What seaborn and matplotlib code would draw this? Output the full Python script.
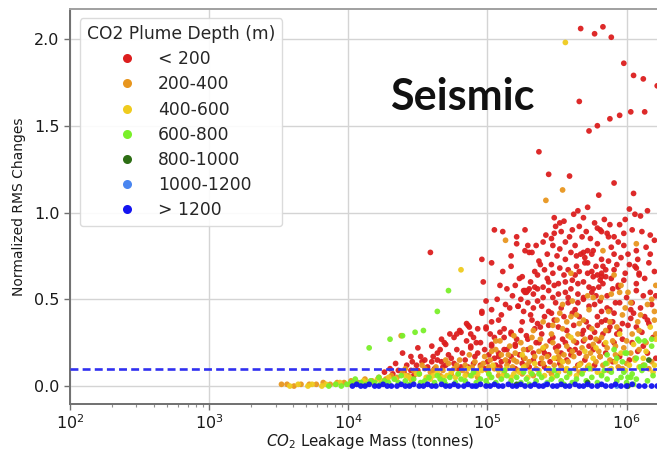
import numpy as np
import pandas as pd
import matplotlib
matplotlib.use("Agg")
import matplotlib.pyplot as plt
from matplotlib.lines import Line2D
import seaborn as sns

# Depth classes of the CO2 plume and their colours
depth_labels = ["< 200", "200-400", "400-600", "600-800", "800-1000", "1000-1200", "> 1200"]
depth_colors = ["#dc1e1e", "#e8961e", "#efcb1e", "#7af02a", "#2d6e14", "#4a86f0", "#1414f0"]

# (log10 leakage mass [tonnes], normalized RMS change) per depth class
pts_lt200 = [
    (5.67, 2.06), (5.77, 2.03), (5.83, 2.07), (5.89, 2.01), (5.98, 1.86), (6.05, 1.79), (6.12, 1.77),
    (6.22, 1.73), (5.66, 1.64), (6.03, 1.58), (6.13, 1.58), (5.95, 1.56), (5.88, 1.54), (5.79, 1.50),
    (5.73, 1.47), (5.37, 1.35), (5.44, 1.22), (5.59, 1.21), (5.91, 1.17), (5.80, 1.10), (6.05, 1.11),
    (5.72, 1.03), (5.65, 1.01), (6.02, 1.02), (6.06, 0.99), (6.10, 0.98), (6.15, 1.01), (5.48, 0.97),
    (5.55, 0.95), (5.62, 0.99), (5.69, 0.97), (5.77, 0.94), (5.88, 0.93), (5.95, 0.93), (5.05, 0.90),
    (5.11, 0.89), (5.27, 0.90), (5.21, 0.86), (5.42, 0.87), (5.61, 0.90), (5.71, 0.89), (5.81, 0.90),
    (5.86, 0.88), (5.87, 0.86), (5.98, 0.88), (6.04, 0.90), (5.52, 0.94), (5.49, 0.92), (5.79, 0.91),
    (5.82, 0.89), (5.91, 0.86), (5.46, 0.85), (5.74, 0.85), (5.48, 0.88), (5.53, 0.89), (5.68, 0.86),
    (6.11, 0.89), (6.17, 0.87),
    (4.59, 0.77), (4.96, 0.73), (4.97, 0.60), (5.03, 0.71), (5.21, 0.82), (5.29, 0.81), (5.27, 0.78),
    (5.30, 0.77), (5.17, 0.75), (5.17, 0.69), (5.11, 0.66), (5.23, 0.62), (5.14, 0.56), (5.27, 0.55),
    (5.29, 0.55), (4.99, 0.49), (5.32, 0.77), (5.35, 0.81), (5.47, 0.81), (5.56, 0.83), (5.63, 0.81),
    (5.67, 0.76), (5.70, 0.74), (5.76, 0.78), (5.75, 0.76), (5.82, 0.73), (5.83, 0.69), (5.82, 0.65),
    (5.91, 0.76), (5.98, 0.81), (6.01, 0.76), (6.07, 0.78), (6.17, 0.76),
    (5.37, 0.72), (5.38, 0.70), (5.47, 0.65), (5.50, 0.75), (5.56, 0.73), (5.64, 0.75), (5.69, 0.77),
    (5.70, 0.71), (5.58, 0.67), (5.63, 0.64), (5.75, 0.66), (5.79, 0.64), (5.82, 0.63), (5.87, 0.72),
    (5.91, 0.67), (6.06, 0.69), (6.09, 0.65), (6.16, 0.71), (6.17, 0.54), (6.07, 0.59),
    (5.98, 0.61), (5.94, 0.57), (5.73, 0.57), (5.76, 0.56), (5.83, 0.59), (5.65, 0.59), (5.69, 0.60),
    (5.51, 0.59), (5.56, 0.60), (5.40, 0.57), (5.44, 0.60), (5.27, 0.54), (5.30, 0.56), (5.34, 0.57),
    (5.34, 0.66), (5.41, 0.67), (5.64, 0.69), (5.72, 0.71), (5.72, 0.65), (5.76, 0.63), (5.81, 0.61),
    (5.85, 0.63), (5.89, 0.62), (5.94, 0.58), (5.99, 0.65), (6.07, 0.68), (6.09, 0.64),
    (5.26, 0.55), (5.28, 0.54), (5.33, 0.53), (5.36, 0.56), (5.40, 0.51), (5.44, 0.55), (5.48, 0.58),
    (5.51, 0.53), (5.56, 0.54), (5.60, 0.56), (5.65, 0.53), (5.69, 0.51), (5.75, 0.54), (5.80, 0.57),
    (4.96, 0.43), (5.03, 0.44), (5.16, 0.45), (5.22, 0.46), (5.29, 0.48), (5.33, 0.45), (5.39, 0.46),
    (5.44, 0.43), (5.49, 0.48), (5.53, 0.45), (5.58, 0.48), (5.63, 0.44), (5.69, 0.50), (5.73, 0.46),
    (5.77, 0.47), (5.82, 0.43), (5.88, 0.44), (5.92, 0.48), (6.04, 0.48), (6.03, 0.44), (6.13, 0.40),
    (6.15, 0.38), (6.16, 0.36), (6.11, 0.31), (6.12, 0.23), (6.05, 0.42), (6.03, 0.39), (5.95, 0.48),
    (5.91, 0.42), (5.86, 0.45), (5.81, 0.49), (6.19, 0.28),
    (4.67, 0.27), (4.69, 0.25), (4.80, 0.32), (4.86, 0.35), (4.88, 0.30), (4.93, 0.33), (4.99, 0.34),
    (5.05, 0.28), (5.09, 0.31), (5.12, 0.28), (5.17, 0.30), (5.21, 0.27), (5.24, 0.32), (5.28, 0.29),
    (5.34, 0.33), (5.39, 0.30), (5.44, 0.35), (5.47, 0.28), (5.51, 0.34), (5.57, 0.32), (5.62, 0.35),
    (5.68, 0.30), (5.73, 0.34), (5.77, 0.31), (5.82, 0.37), (5.87, 0.32), (5.95, 0.32), (6.01, 0.35),
    (4.78, 0.30), (4.81, 0.31), (4.85, 0.36), (4.87, 0.34), (4.90, 0.28), (4.92, 0.25), (4.88, 0.22),
    (4.96, 0.42), (4.99, 0.33), (5.02, 0.30), (5.03, 0.37), (5.08, 0.38), (5.10, 0.41), (5.12, 0.33),
    (5.17, 0.31), (5.22, 0.46), (5.26, 0.43), (5.32, 0.38), (5.36, 0.36), (5.41, 0.40), (5.46, 0.42),
    (5.29, 0.27), (5.35, 0.25), (5.40, 0.21), (5.45, 0.26), (5.03, 0.23), (5.08, 0.19), (5.14, 0.21),
    (5.20, 0.24), (4.76, 0.28), (5.88, 0.34), (5.93, 0.30), (5.83, 0.30), (5.79, 0.35), (5.74, 0.28),
    (5.69, 0.32), (5.64, 0.25), (5.59, 0.21), (5.54, 0.27), (5.51, 0.23), (5.76, 0.21), (5.81, 0.17),
    (4.39, 0.19), (4.45, 0.17), (4.50, 0.22), (4.55, 0.15), (4.61, 0.17), (4.66, 0.21), (4.72, 0.18),
    (4.78, 0.21), (4.84, 0.15), (4.88, 0.23), (4.93, 0.19), (4.98, 0.21), (5.03, 0.24), (5.08, 0.17),
    (5.12, 0.21), (5.20, 0.23), (5.23, 0.18), (5.29, 0.21), (5.37, 0.25), (5.41, 0.19), (5.49, 0.22),
    (5.56, 0.25), (5.63, 0.21), (5.73, 0.23), (5.80, 0.26),
    (4.53, 0.14), (4.49, 0.12), (4.60, 0.14), (4.64, 0.15), (4.67, 0.14), (4.73, 0.30), (4.36, 0.09),
    (4.40, 0.08), (4.45, 0.09), (4.50, 0.09), (4.30, 0.10), (4.42, 0.12), (4.57, 0.11), (4.70, 0.12),
    (4.76, 0.13), (4.81, 0.11), (4.90, 0.13), (4.95, 0.12), (5.00, 0.14), (5.06, 0.12), (5.15, 0.14),
    (5.25, 0.13), (5.33, 0.15), (5.45, 0.14), (5.50, 0.16), (5.60, 0.18), (5.70, 0.15), (5.85, 0.19),
    (5.95, 0.17), (6.08, 0.20),
    (5.25, 0.63), (5.31, 0.60), (5.36, 0.64), (5.43, 0.62), (5.46, 0.70), (5.52, 0.68), (5.55, 0.64),
    (5.61, 0.61), (5.66, 0.66), (5.78, 0.69), (5.85, 0.67), (5.93, 0.70), (5.96, 0.74), (6.02, 0.70),
    (6.13, 0.62), (6.20, 0.66), (6.14, 0.80), (6.20, 0.84), (6.08, 0.73), (5.94, 0.83), (5.89, 0.80),
    (5.79, 0.82), (5.72, 0.78), (5.60, 0.77), (5.52, 0.79), (5.43, 0.76), (5.40, 0.83), (5.59, 0.86),
    (5.66, 0.92), (5.84, 0.96), (5.99, 0.96),
    (5.25, 0.37), (5.31, 0.41), (5.38, 0.34), (5.48, 0.38), (5.55, 0.40), (5.61, 0.42), (5.66, 0.40),
    (5.71, 0.37), (5.79, 0.40), (5.85, 0.38), (5.90, 0.37), (5.97, 0.36), (6.07, 0.34), (6.10, 0.45),
    (6.18, 0.47), (6.21, 0.52), (6.12, 0.52), (6.07, 0.55), (6.00, 0.51), (5.90, 0.56), (5.86, 0.52),
    (5.78, 0.52), (5.65, 0.48), (5.58, 0.51), (5.47, 0.51), (5.36, 0.49), (5.24, 0.50), (5.18, 0.52),
    (5.13, 0.47), (5.07, 0.50), (5.09, 0.58), (5.20, 0.58),
    (4.60, 0.23), (4.64, 0.19), (4.70, 0.24), (4.74, 0.16), (4.82, 0.19), (4.85, 0.26), (4.91, 0.17),
    (4.95, 0.25), (5.01, 0.18), (5.05, 0.16), (5.10, 0.14), (5.17, 0.17), (5.26, 0.16), (5.33, 0.19),
    (5.38, 0.13), (5.44, 0.18), (5.53, 0.19), (5.57, 0.15), (5.66, 0.19), (5.69, 0.26), (5.84, 0.24),
    (5.91, 0.25), (5.97, 0.27), (6.04, 0.25), (6.15, 0.19), (6.21, 0.16),
    (4.34, 0.13), (4.46, 0.14), (4.52, 0.17), (4.62, 0.10), (4.68, 0.11), (4.79, 0.10), (4.86, 0.11),
    (4.98, 0.10), (5.09, 0.11), (5.20, 0.10), (5.30, 0.11), (5.41, 0.11), (5.52, 0.13), (5.65, 0.12),
    (5.77, 0.12), (5.90, 0.14), (6.02, 0.15), (4.26, 0.08), (4.32, 0.07), (4.47, 0.06),
]
pts_200_400 = [
    (5.54, 1.13), (5.42, 1.07), (5.13, 0.84), (4.38, 0.29), (5.83, 0.78), (6.07, 0.82), (5.60, 0.65),
    (5.91, 0.64), (5.95, 0.54), (5.89, 0.53), (6.01, 0.54), (5.72, 0.52), (5.76, 0.51), (5.82, 0.51),
    (6.03, 0.48), (5.61, 0.49), (5.54, 0.47), (6.21, 0.58), (6.18, 0.50), (5.96, 0.58),
    (5.52, 0.42), (5.57, 0.37), (5.60, 0.40), (5.54, 0.33), (5.50, 0.38), (5.66, 0.36), (5.69, 0.38),
    (5.75, 0.33), (5.78, 0.27), (5.85, 0.32), (5.90, 0.26), (5.97, 0.41), (6.04, 0.30), (6.09, 0.32),
    (6.14, 0.25), (6.20, 0.43), (5.98, 0.22), (5.92, 0.18), (5.86, 0.22), (5.80, 0.20), (5.74, 0.19),
    (5.68, 0.22), (5.62, 0.26), (5.58, 0.29), (5.55, 0.18), (5.50, 0.20), (5.46, 0.30), (5.42, 0.23),
    (5.38, 0.27), (5.34, 0.17), (5.31, 0.22), (5.27, 0.16), (5.24, 0.25), (5.20, 0.19), (5.16, 0.23),
    (5.13, 0.15), (5.10, 0.18), (5.06, 0.21), (5.02, 0.15), (4.98, 0.17), (4.95, 0.11), (4.91, 0.14),
    (4.87, 0.18), (4.84, 0.12), (4.80, 0.15), (4.76, 0.10), (4.72, 0.13), (4.68, 0.09), (4.63, 0.11),
    (4.59, 0.08), (4.55, 0.10), (4.51, 0.07), (4.47, 0.09), (4.43, 0.06), (4.39, 0.08), (4.35, 0.05),
    (4.31, 0.06), (4.27, 0.04), (4.22, 0.05), (4.17, 0.03), (4.12, 0.04), (4.07, 0.02), (4.02, 0.03),
    (3.97, 0.02), (3.92, 0.02), (3.87, 0.01), (3.82, 0.02), (3.77, 0.01), (3.72, 0.01), (3.66, 0.01),
    (3.61, 0.00), (3.56, 0.01), (3.52, 0.01),
    (4.85, 0.07), (4.92, 0.08), (5.00, 0.09), (5.05, 0.10), (5.12, 0.08), (5.18, 0.11), (5.22, 0.09),
    (5.28, 0.12), (5.35, 0.10), (5.40, 0.13), (5.44, 0.09), (5.48, 0.12), (5.53, 0.11), (5.58, 0.14),
    (5.63, 0.10), (5.67, 0.13), (5.72, 0.11), (5.78, 0.14), (5.83, 0.12), (5.88, 0.15), (5.94, 0.11),
    (6.00, 0.13), (6.06, 0.16), (6.12, 0.12), (6.18, 0.14),
    (5.03, 0.20), (5.09, 0.26), (5.15, 0.18), (5.21, 0.14), (5.26, 0.21), (5.32, 0.28), (5.37, 0.20),
    (5.43, 0.17), (5.47, 0.25), (5.52, 0.15), (5.57, 0.23), (5.62, 0.17), (5.65, 0.30), (5.70, 0.27),
    (5.76, 0.24), (5.82, 0.28), (5.88, 0.37), (5.93, 0.34), (6.00, 0.26), (6.08, 0.37), (6.15, 0.47),
    (6.20, 0.38),
    (4.41, 0.10), (4.45, 0.04), (4.53, 0.12), (4.57, 0.05), (4.61, 0.09), (4.66, 0.06), (4.70, 0.15),
    (4.74, 0.07), (4.78, 0.12), (4.82, 0.09), (4.89, 0.11), (4.93, 0.05), (4.97, 0.13), (5.01, 0.11),
    (5.08, 0.06), (5.14, 0.12), (5.19, 0.15), (5.25, 0.07), (5.30, 0.14), (5.33, 0.06), (5.39, 0.16),
    (5.46, 0.07), (5.51, 0.17), (5.56, 0.09), (5.61, 0.20), (5.66, 0.08), (5.71, 0.17), (5.75, 0.10),
    (5.81, 0.17), (5.87, 0.09), (5.92, 0.23), (5.97, 0.10), (6.03, 0.19), (6.09, 0.21), (6.16, 0.10),
    (6.21, 0.30), (6.10, 0.41), (5.99, 0.45), (5.87, 0.43), (5.73, 0.44), (5.64, 0.41), (5.47, 0.35),
    (5.40, 0.37), (5.33, 0.32), (5.19, 0.29), (5.06, 0.26),
]
pts_400_600 = [
    (5.56, 1.98), (4.81, 0.67), (6.17, 0.34), (6.19, 0.08), (6.21, 0.27),
    (3.58, 0.00), (3.64, 0.01), (3.71, 0.00), (3.74, 0.01), (3.81, 0.00), (3.84, 0.01), (3.91, 0.01),
    (3.94, 0.02), (4.01, 0.01), (4.04, 0.02), (4.11, 0.03), (4.14, 0.02), (4.21, 0.04), (4.24, 0.03),
    (4.29, 0.05), (4.34, 0.04), (4.41, 0.06), (4.44, 0.05), (4.49, 0.07), (4.56, 0.05), (4.61, 0.06),
    (4.64, 0.08), (4.71, 0.06), (4.74, 0.08), (4.79, 0.07), (4.86, 0.10), (4.89, 0.06), (4.96, 0.09),
    (5.01, 0.07), (5.04, 0.12), (5.11, 0.06), (5.14, 0.10), (5.19, 0.07), (5.26, 0.11), (5.31, 0.08),
    (5.34, 0.13), (5.41, 0.06), (5.44, 0.10), (5.51, 0.08), (5.54, 0.14), (5.59, 0.07), (5.66, 0.12),
    (5.69, 0.09), (5.76, 0.16), (5.79, 0.08), (5.86, 0.13), (5.89, 0.10), (5.96, 0.19), (5.99, 0.09),
    (6.06, 0.15), (6.09, 0.11), (6.14, 0.20), (5.40, 0.22), (5.60, 0.28), (5.85, 0.25), (6.05, 0.24),
    (5.25, 0.18), (5.70, 0.20),
    (4.46, 0.03), (4.59, 0.04), (4.68, 0.05), (4.77, 0.05), (4.84, 0.06), (4.93, 0.07), (5.02, 0.05),
    (5.08, 0.09), (5.17, 0.05), (5.23, 0.08), (5.29, 0.05), (5.37, 0.09), (5.47, 0.05), (5.57, 0.10),
    (5.64, 0.06), (5.73, 0.12), (5.82, 0.07), (5.92, 0.14), (6.02, 0.12), (6.12, 0.16), (6.20, 0.12),
    (5.48, 0.16), (5.78, 0.22), (5.95, 0.30), (4.25, 0.01), (4.18, 0.02),
]
pts_600_800 = [
    (4.15, 0.22), (4.30, 0.27), (4.39, 0.29), (4.48, 0.31), (4.54, 0.32), (4.64, 0.43), (4.72, 0.55),
    (6.09, 0.26), (6.13, 0.26), (6.00, 0.19), (5.97, 0.14), (5.86, 0.18), (6.01, 0.05), (6.07, 0.16),
    (6.18, 0.23), (6.08, 0.27), (6.18, 0.27), (6.10, 0.11), (6.03, 0.05), (5.91, 0.21), (5.99, 0.19),
    (5.93, 0.16), (5.85, 0.13),
    (3.86, 0.00), (3.91, 0.01), (3.95, 0.00), (3.99, 0.01), (4.02, 0.02), (4.06, 0.01), (4.09, 0.02),
    (4.13, 0.01), (4.16, 0.03), (4.19, 0.02), (4.23, 0.01), (4.26, 0.03), (4.29, 0.02), (4.33, 0.04),
    (4.36, 0.02), (4.41, 0.03), (4.44, 0.01), (4.47, 0.04), (4.52, 0.02), (4.55, 0.03), (4.58, 0.05),
    (4.62, 0.02), (4.66, 0.04), (4.69, 0.03), (4.73, 0.05), (4.77, 0.02), (4.81, 0.04), (4.84, 0.03),
    (4.88, 0.06), (4.92, 0.02), (4.95, 0.04), (4.99, 0.03), (5.03, 0.05), (5.06, 0.02), (5.10, 0.04),
    (5.14, 0.06), (5.17, 0.03), (5.21, 0.05), (5.24, 0.02), (5.28, 0.04), (5.32, 0.07), (5.35, 0.03),
    (5.39, 0.05), (5.43, 0.02), (5.46, 0.04), (5.50, 0.06), (5.53, 0.03), (5.57, 0.05), (5.61, 0.02),
    (5.64, 0.04), (5.68, 0.07), (5.71, 0.03), (5.75, 0.05), (5.79, 0.02), (5.82, 0.06), (5.86, 0.04),
    (5.89, 0.08), (5.93, 0.03), (5.96, 0.05), (6.00, 0.02), (6.04, 0.07), (6.07, 0.04), (6.11, 0.09),
    (6.15, 0.03), (6.19, 0.06),
    (4.05, 0.04), (4.22, 0.05), (4.38, 0.06), (4.51, 0.07), (4.64, 0.06), (4.79, 0.07), (4.90, 0.08),
    (5.01, 0.07), (5.12, 0.09), (5.26, 0.08), (5.37, 0.07), (5.48, 0.09), (5.59, 0.08), (5.73, 0.10),
    (5.84, 0.09), (5.98, 0.08), (6.13, 0.12), (5.55, 0.01), (5.30, 0.01), (5.00, 0.01), (4.70, 0.01),
    (5.80, 0.01), (6.05, 0.01),
]
pts_800_1000 = [(6.16, 0.15), (5.21, 0.01), (5.72, 0.02), (6.01, 0.00)]
pts_1000_1200 = [(4.91, 0.00), (5.42, 0.01), (5.93, 0.00)]
pts_gt1200 = [
    (4.03, 0.00), (4.06, 0.01), (4.09, 0.00), (4.12, 0.00), (4.15, 0.01), (4.19, 0.00), (4.22, 0.00),
    (4.25, 0.01), (4.28, 0.00), (4.31, 0.00), (4.35, 0.00), (4.38, 0.01), (4.41, 0.00), (4.44, 0.00),
    (4.47, 0.01), (4.51, 0.00), (4.54, 0.00), (4.57, 0.01), (4.60, 0.00), (4.63, 0.00), (4.67, 0.01),
    (4.70, 0.00), (4.73, 0.00), (4.76, 0.01), (4.79, 0.00), (4.83, 0.00), (4.86, 0.01), (4.89, 0.00),
    (4.92, 0.00), (4.95, 0.01), (4.99, 0.00), (5.02, 0.00), (5.05, 0.01), (5.08, 0.00), (5.11, 0.00),
    (5.15, 0.01), (5.18, 0.00), (5.21, 0.00), (5.24, 0.01), (5.27, 0.00), (5.31, 0.00), (5.34, 0.01),
    (5.37, 0.00), (5.40, 0.00), (5.43, 0.01), (5.47, 0.00), (5.50, 0.00), (5.53, 0.01), (5.56, 0.00),
    (5.59, 0.00), (5.63, 0.01), (5.66, 0.00), (5.69, 0.00), (5.72, 0.01), (5.75, 0.00), (5.79, 0.00),
    (5.82, 0.01), (5.85, 0.00), (5.89, 0.00), (5.92, 0.01), (5.96, 0.00), (6.00, 0.00), (6.04, 0.01),
    (6.09, 0.00), (6.13, 0.00), (6.18, 0.00), (6.22, 0.00),
]
groups = [pts_lt200, pts_200_400, pts_400_600, pts_600_800, pts_800_1000, pts_1000_1200, pts_gt1200]

detection_threshold = 0.1

rows = []
for label, pts in zip(depth_labels, groups):
    for logm, rms in pts:
        rows.append({"mass": 10 ** logm, "rms": rms, "depth": label})
df = pd.DataFrame(rows)

sns.set_theme(style="whitegrid")
plt.rcParams["font.family"] = ["DejaVu Sans"]

fig = plt.figure(figsize=(6.57, 4.51), dpi=100)
ax = fig.add_axes([0.1065, 0.104, 0.915, 0.875])

sns.scatterplot(data=df, x="mass", y="rms", hue="depth", hue_order=depth_labels,
                palette=depth_colors, s=17, linewidth=0, alpha=0.95, legend=False, ax=ax)
ax.axhline(detection_threshold, color="#3030f0", lw=1.9, dashes=(3.0, 1.6), zorder=3)

ax.set_xscale("log")
ax.set_xlim(100, 10 ** 6.32)
ax.set_ylim(-0.104, 2.17)
ax.set_yticks([0.0, 0.5, 1.0, 1.5, 2.0])
ax.grid(True, which="major", color="#d4d4d4", lw=1.0)
ax.grid(False, which="minor")
ax.set_facecolor("white")

for side in ["left", "bottom", "top"]:
    ax.spines[side].set_visible(True)
    ax.spines[side].set_color("#707070")
    ax.spines[side].set_linewidth(1.4)
ax.spines["top"].set_color("#a0a0a0")
ax.spines["right"].set_visible(False)

ax.tick_params(axis="both", which="major", labelsize=11.5, labelcolor="#1a1a1a",
               length=4, width=1, color="#707070", direction="out", bottom=True, left=True)
ax.tick_params(axis="x", which="major", pad=2.5)
ax.tick_params(axis="x", which="minor", length=2.5, width=0.8, color="#909090", bottom=True)

ax.set_xlabel("$CO_2$ Leakage Mass (tonnes)", fontsize=10.8, color="#1a1a1a", labelpad=0)
ax.set_ylabel("Normalized RMS Changes", fontsize=10, color="#1a1a1a", labelpad=6)

handles = [Line2D([0], [0], marker="o", linestyle="none", markersize=6.5,
                  markerfacecolor=c, markeredgewidth=0) for c in depth_colors]
leg = ax.legend(handles, depth_labels, title="CO2 Plume Depth (m)", loc="upper left",
                bbox_to_anchor=(0.0166, 0.978), borderaxespad=0.0,
                fontsize=12.3, title_fontsize=12.3,
                frameon=True, framealpha=0.9, edgecolor="#d8d8d8", fancybox=True,
                handlelength=2.0, handletextpad=0.8, labelspacing=0.42, borderpad=0.4)
leg.get_frame().set_linewidth(1.0)

fig.text(0.703, 0.785, "Seismic", family=["Lato", "DejaVu Sans"], weight="bold",
         fontsize=31, ha="center", va="center", color="#111111")

fig.savefig("out.png", dpi=100)
